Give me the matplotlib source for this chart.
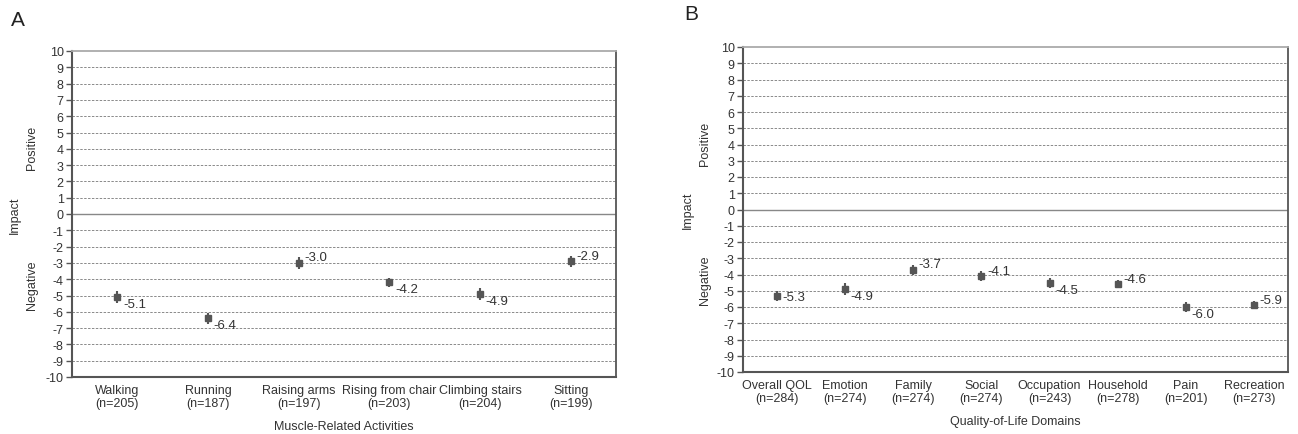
import matplotlib.pyplot as plt

plt.rcParams['font.family'] = ['Liberation Sans', 'DejaVu Sans']
plt.rcParams['axes.unicode_minus'] = False

# Panel A data
act_names = ["Walking", "Running", "Raising arms", "Rising from chair", "Climbing stairs", "Sitting"]
act_n = [205, 187, 197, 203, 204, 199]
act_mean = [-5.1, -6.4, -3.0, -4.2, -4.9, -2.9]
act_err = [0.35, 0.35, 0.35, 0.3, 0.35, 0.35]

# Panel B data
qol_names = ["Overall QOL", "Emotion", "Family", "Social", "Occupation", "Household", "Pain", "Recreation"]
qol_n = [284, 274, 274, 274, 243, 278, 201, 273]
qol_mean = [-5.3, -4.9, -3.7, -4.1, -4.5, -4.6, -6.0, -5.9]
qol_err = [0.3, 0.35, 0.3, 0.3, 0.3, 0.25, 0.3, 0.25]

# label placement relative to marker (style only)
act_lab = ["below", "below", "above", "below", "below", "above"]
qol_lab = ["mid", "below", "above", "above", "below", "above", "below", "above"]

dark = "#555555"
fig = plt.figure(figsize=(12.98, 4.35), dpi=100)


def panel(rect, names, ns, means, errs, labpos, xlabel, letter, letter_xy, txt_x):
    ax = fig.add_axes(rect)
    xs = [i + 0.5 for i in range(len(names))]
    ax.set_xlim(0, len(names))
    ax.set_ylim(-10, 10)
    for y in range(-9, 10):
        if y == 0:
            ax.axhline(0, color="#888888", lw=1.0, zorder=1)
        else:
            ax.axhline(y, color="#8a8a8a", lw=0.7, ls=(0, (2.5, 1.5)), zorder=1)
    ax.errorbar(xs, means, yerr=errs, fmt="s", color=dark, ms=4.5,
                elinewidth=1.5, capsize=0, zorder=3)
    for x, m, p in zip(xs, means, labpos):
        dy = {"above": 4, "below": -5, "mid": -1}[p]
        ax.annotate(f"{m:.1f}", (x, m), xytext=(4, dy), textcoords="offset points",
                    fontsize=9.5, color="#333333", va="center", ha="left", zorder=4)
    ax.set_yticks(range(-10, 11))
    ax.tick_params(axis="y", labelsize=9, length=4, width=1, color=dark,
                   labelcolor="#333333", pad=2)
    ax.set_xticks(xs)
    ax.set_xticklabels([f"{a}\n(n={b})" for a, b in zip(names, ns)],
                       fontsize=9, color="#333333", linespacing=1.1)
    ax.tick_params(axis="x", length=0, pad=5)
    ax.spines["left"].set_color(dark)
    ax.spines["left"].set_linewidth(1.5)
    ax.spines["bottom"].set_color(dark)
    ax.spines["bottom"].set_linewidth(1.5)
    ax.spines["right"].set_color(dark)
    ax.spines["right"].set_linewidth(1.3)
    ax.spines["top"].set_color("#aaaaaa")
    ax.spines["top"].set_linewidth(1.3)
    ax.set_xlabel(xlabel, fontsize=9, color="#333333", labelpad=8)
    fig.text(letter_xy[0], letter_xy[1], letter, fontsize=15, color="#222222",
             ha="left", va="center")
    # side labels
    y0 = rect[1]
    h = rect[3]
    fig.text(txt_x[0], y0 + h * 0.5, "Impact", rotation=90, fontsize=9,
             color="#333333", ha="center", va="center")
    fig.text(txt_x[1], y0 + h * 0.705, "Positive", rotation=90, fontsize=9,
             color="#333333", ha="center", va="center")
    fig.text(txt_x[1], y0 + h * 0.285, "Negative", rotation=90, fontsize=9,
             color="#333333", ha="center", va="center")
    return ax


panel([72 / 1298, 1 - 378 / 435, 544 / 1298, 326 / 435], act_names, act_n, act_mean,
      act_err, act_lab, "Muscle-Related Activities", "A", (11 / 1298, 1 - 20 / 435),
      (15 / 1298, 32 / 1298))
panel([743 / 1298, 1 - 373 / 435, 545 / 1298, 325 / 435], qol_names, qol_n, qol_mean,
      qol_err, qol_lab, "Quality-of-Life Domains", "B", (684 / 1298, 1 - 15 / 435),
      (688 / 1298, 705 / 1298))

fig.savefig("out.png", dpi=100)
